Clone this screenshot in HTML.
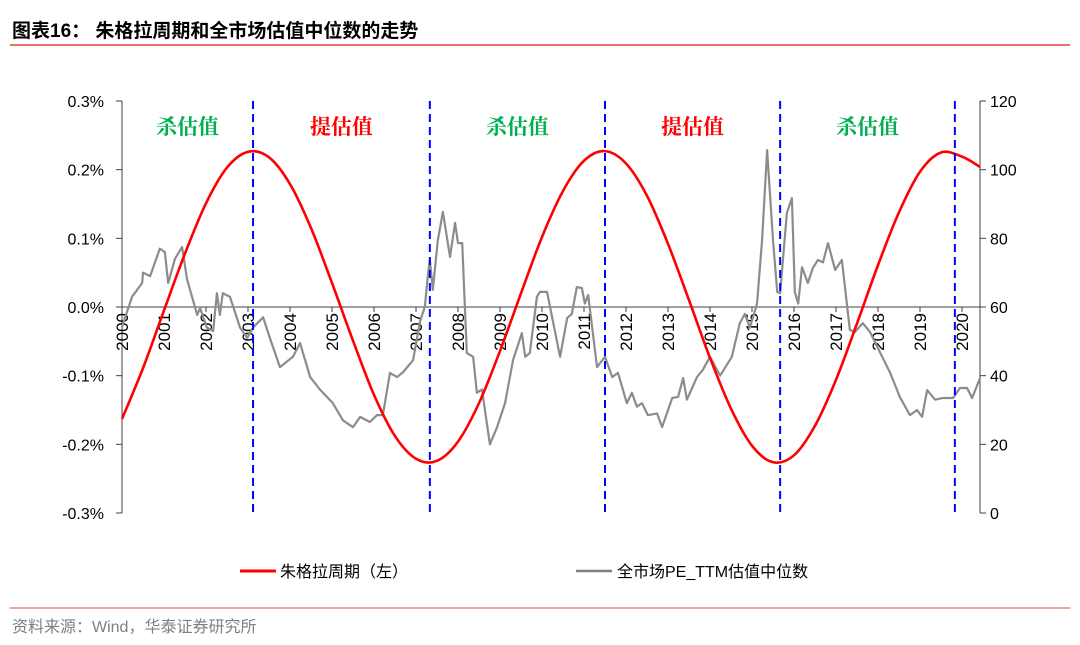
<!DOCTYPE html>
<html><head><meta charset="utf-8"><style>
body{margin:0;background:#fff;width:1080px;height:640px;overflow:hidden;font-family:"Liberation Sans","Noto Sans CJK SC",sans-serif}
</style></head><body>
<svg width="1080" height="640" xmlns="http://www.w3.org/2000/svg" font-family="Liberation Sans, Noto Sans CJK SC, sans-serif">
<text x="12" y="37" font-size="19" font-weight="bold" fill="#000">图表16： 朱格拉周期和全市场估值中位数的走势</text>
<line x1="10" y1="45" x2="1070" y2="45" stroke="#e8413a" stroke-width="1.5"/>
<line x1="10" y1="608" x2="1070" y2="608" stroke="#e8413a" stroke-width="1"/>
<text x="12" y="632" font-size="16" fill="#7f7f7f">资料来源：Wind，华泰证券研究所</text>
<g id="chart"></g>
<g>
<line x1="240" y1="571" x2="276" y2="571" stroke="#ff0000" stroke-width="3"/>
<text x="280" y="577" font-size="16">朱格拉周期（左）</text>
<line x1="576" y1="571" x2="612" y2="571" stroke="#808080" stroke-width="2.5"/>
<text x="617" y="577" font-size="16">全市场PE_TTM估值中位数</text>
</g>
</svg>
<script>
const leftTicks=[0.3,0.2,0.1,0,-0.1,-0.2,-0.3];
const leftTickLabels=["0.3%","0.2%","0.1%","0.0%","-0.1%","-0.2%","-0.3%"];
const rightTicks=[120,100,80,60,40,20,0];
const yearLabels=[2000,2001,2002,2003,2004,2005,2006,2007,2008,2009,2010,2011,2012,2013,2014,2015,2016,2017,2018,2019,2020];
const juglarT=[0,0.5,1,1.5,2,2.5,3,3.5,4,4.5,5,5.5,6,6.5,7,7.5,8,8.5,9,9.5,10,10.5,11,11.5,12,12.5,13,13.5,14,14.5,15,15.5,16,16.5,17,17.5,18,18.5,19,19.5,20,20.43];
const juglarV=[-0.163,-0.089,-0.005,0.078,0.151,0.203,0.226,0.218,0.179,0.115,0.035,-0.049,-0.128,-0.188,-0.221,-0.224,-0.196,-0.140,-0.064,0.020,0.102,0.169,0.213,0.227,0.209,0.162,0.092,0.010,-0.074,-0.148,-0.202,-0.226,-0.216,-0.173,-0.106,-0.024,0.061,0.138,0.197,0.225,0.219,0.204];
const peT=[0,0.24,0.48,0.5,0.67,0.9,1.02,1.1,1.26,1.43,1.55,1.79,1.86,2.02,2.17,2.26,2.33,2.4,2.57,2.81,2.98,3.12,3.36,3.52,3.76,4.07,4.24,4.48,4.71,5.02,5.26,5.5,5.67,5.9,6.07,6.21,6.38,6.55,6.69,6.93,7.1,7.21,7.29,7.33,7.4,7.52,7.64,7.81,7.93,8,8.1,8.21,8.36,8.45,8.57,8.76,8.93,9.12,9.31,9.52,9.6,9.71,9.88,9.95,10.12,10.43,10.6,10.71,10.83,10.95,11.02,11.1,11.31,11.5,11.67,11.81,12.02,12.14,12.26,12.38,12.52,12.74,12.86,13.1,13.24,13.36,13.45,13.69,13.83,14,14.24,14.52,14.71,14.83,14.95,15.12,15.24,15.36,15.5,15.6,15.67,15.83,15.95,16.02,16.1,16.19,16.33,16.45,16.57,16.69,16.81,16.98,17.14,17.33,17.45,17.64,17.81,18.29,18.52,18.76,18.93,19.05,19.17,19.36,19.55,19.79,19.95,20.12,20.24,20.43];
const peV=[54.2,63,67,70,69,77,76,67,74,77.5,68,57.7,59.7,54,53,64,57.7,64,63,54,51,54,57,51,42.5,45.5,49.5,39.6,36,32,27,25,28,26.5,28.5,28.5,40.8,39.6,41,44.5,56,60,70,73.7,65,79.5,87.7,74.6,84.5,78.6,78.6,46.6,45.5,35,36,20,25,32,44.5,52.4,45.5,46.6,63,64.4,64.4,45.5,56.8,58,65.8,65.5,61,63.5,42.5,45.5,39.6,40.8,32,35,31,32,28.5,29,25,33.5,33.8,39.3,33,39.6,41.7,45.5,40,45.5,55.3,58,54,61,79.5,105.7,79.5,64.4,64,87.4,91.7,64.4,61,71.6,67,71.4,73.7,73,78.6,70.8,73.7,53.3,52.7,55.3,52.7,40.8,33.8,28.5,30,28,35.8,33,33.5,33.5,36.4,36.4,33.5,39.3];
const cutYears=[3.12,7.33,11.5,15.67,19.83];
const phaseLabels=["杀估值","提估值","杀估值","提估值","杀估值"];
const phaseColors=["#00b050","#ff0000","#00b050","#ff0000","#00b050"];

const NS="http://www.w3.org/2000/svg";
const g=document.getElementById('chart');
const X=t=>122+42*t;
const YL=v=>307-v*686.67;
const YR=v=>513-v*412/120;
function mk(tag,attrs,parent){const e=document.createElementNS(NS,tag);for(const k in attrs)e.setAttribute(k,attrs[k]);(parent||g).appendChild(e);return e;}

let e=mk('line',{x1:122,y1:101,x2:122,y2:513,stroke:'#404040','stroke-width':1});


e=mk('line',{x1:980,y1:101,x2:980,y2:513,stroke:'#404040','stroke-width':1});


leftTicks.forEach((v,i)=>{
  mk('line',{x1:116,y1:YL(v),x2:122,y2:YL(v),stroke:'#404040'});
  const t=mk('text',{x:104,y:YL(v)+6,'font-size':16,'text-anchor':'end',fill:'#000'});
  t.textContent=leftTickLabels[i];
  
  
});
rightTicks.forEach(v=>{
  mk('line',{x1:980,y1:YR(v),x2:986,y2:YR(v),stroke:'#404040'});
  const t=mk('text',{x:990,y:YR(v)+6,'font-size':16,fill:'#000'});
  t.textContent=v;
  
  
});
e=mk('line',{x1:122,y1:307,x2:980,y2:307,stroke:'#404040','stroke-width':1});


yearLabels.forEach(y=>{
  const x=X(y-2000);
  mk('line',{x1:x,y1:307,x2:x,y2:312,stroke:'#404040'});
  const t=mk('text',{x:0,y:0,'font-size':17,'text-anchor':'end',fill:'#000',transform:`translate(${x+6},313) rotate(-90)`});
  t.textContent=y;
  
  
});
function smooth(xs,ys){let d=`M${xs[0]},${ys[0]}`;for(let i=0;i<xs.length-1;i++){const p0=i?i-1:i,p3=i+2<xs.length?i+2:i+1;const c1x=xs[i]+(xs[i+1]-xs[p0])/6,c1y=ys[i]+(ys[i+1]-ys[p0])/6,c2x=xs[i+1]-(xs[p3]-xs[i])/6,c2y=ys[i+1]-(ys[p3]-ys[i])/6;d+=`C${c1x},${c1y} ${c2x},${c2y} ${xs[i+1]},${ys[i+1]}`;}return d;}
e=mk('polyline',{points:peT.map((t,i)=>X(t)+','+YR(peV[i])).join(' '),fill:'none',stroke:'#8c8c8c','stroke-width':2.2,'stroke-linejoin':'round'});


e=mk('path',{d:smooth(juglarT.map(X),juglarV.map(YL)),fill:'none',stroke:'#ff0000','stroke-width':2.6});


cutYears.forEach(c=>{
  const l=mk('line',{x1:X(c),y1:101,x2:X(c),y2:513,stroke:'#0000ff','stroke-width':2,'stroke-dasharray':'8,5'});
  
  
});
const bounds=[0].concat(cutYears).concat([20.43]);
phaseLabels.forEach((s,i)=>{
  const t=mk('text',{x:(X(bounds[i])+X(bounds[i+1]))/2,y:134,'font-size':21,'font-weight':'bold','text-anchor':'middle',fill:phaseColors[i],'font-family':'Noto Serif CJK SC, serif'});
  t.textContent=s;
  
  
});
</script>
</body></html>
